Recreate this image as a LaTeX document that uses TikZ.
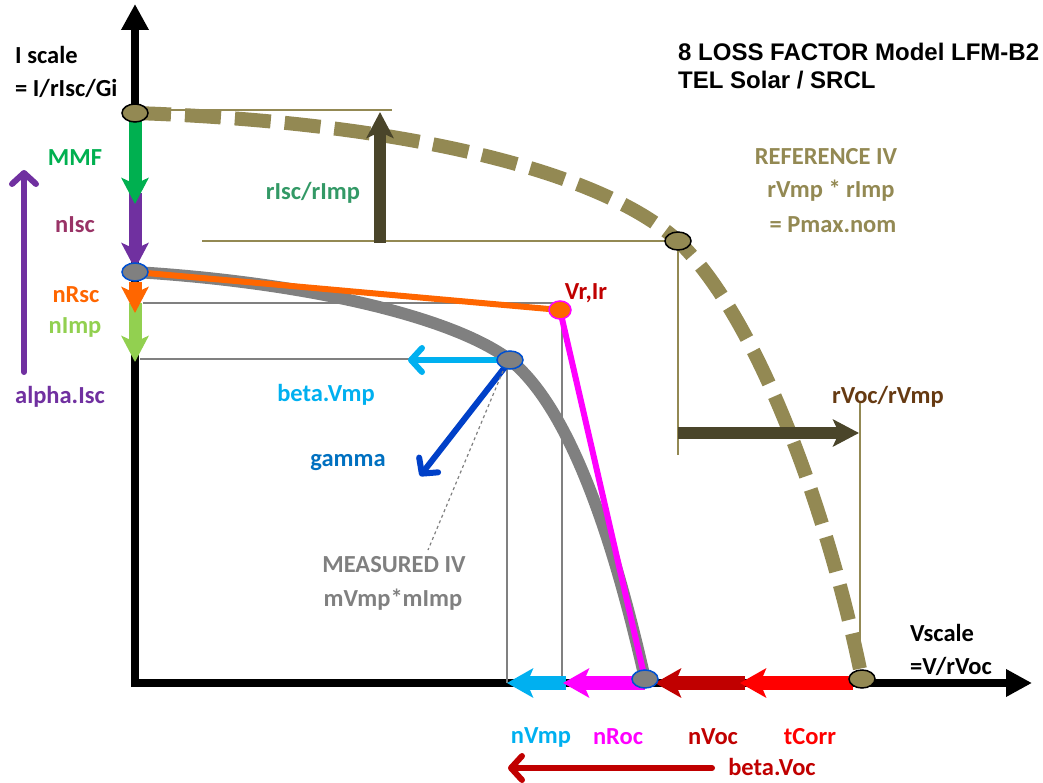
\documentclass[tikz,border=0pt]{standalone}
\usepackage{fontspec}
\setmainfont{Carlito}
\newfontfamily\arialfont{Liberation Sans}
\usetikzlibrary{arrows.meta,shapes.geometric}
\definecolor{olv}{HTML}{938953}
\definecolor{dolv}{HTML}{4A452A}
\definecolor{brn}{HTML}{663A12}
\definecolor{mmfg}{HTML}{00B050}
\definecolor{purp}{HTML}{7030A0}
\definecolor{nisc}{HTML}{993366}
\definecolor{orng}{HTML}{FF6600}
\definecolor{lgrn}{HTML}{92D050}
\definecolor{cyn}{HTML}{00B0F0}
\definecolor{gamb}{HTML}{0040C8}
\definecolor{gamt}{HTML}{0070C0}
\definecolor{mag}{HTML}{FF00FF}
\definecolor{dred}{HTML}{C00000}
\definecolor{rred}{HTML}{FF0000}
\definecolor{gry}{HTML}{808080}
\definecolor{tgrn}{HTML}{339966}
\definecolor{bord}{HTML}{0050D0}
\begin{document}
\begin{tikzpicture}[x=1pt,y=-1pt,
  lbl/.style={font=\fontsize{24.5}{26}\selectfont\bfseries, inner sep=0pt},
  ttl/.style={font=\arialfont\fontsize{24}{26}\selectfont\bfseries, inner sep=0pt, anchor=west},
  axis/.style={line width=8pt, -{Triangle[length=26pt,width=26pt]}},
  blk/.style={line width=13pt, -{Stealth[length=26pt,width=27pt,inset=6pt]}},
  hblk/.style={line width=14pt, -{Stealth[length=26pt,width=29pt,inset=6pt]}},
  thin/.style={line width=6pt, line cap=round, -{Straight Barb[length=11pt,width=24pt,round]}},
  guide/.style={line width=2.5pt, olv},
  mguide/.style={line width=1.5pt, gry},
  refpt/.style={ellipse, draw=black, fill=olv, line width=1.5pt, minimum width=26pt, minimum height=18pt, inner sep=0pt},
  mpt/.style={ellipse, draw=bord, fill=gry, line width=1.5pt, minimum width=26pt, minimum height=18pt, inner sep=0pt},
  vrpt/.style={ellipse, draw=mag, fill=orng, line width=1.5pt, minimum width=22pt, minimum height=18pt, inner sep=0pt}
]
\useasboundingbox (0,0) rectangle (1043,783);
% key points
\coordinate (isc) at (135,113);
\coordinate (rmp) at (678,241);
\coordinate (voc) at (862,679);
\coordinate (msc) at (135,272);
\coordinate (mmp) at (510,360);
\coordinate (moc) at (645,679);
\coordinate (vr) at (560,310);
% axes
\coordinate (orig) at (135,687);
\coordinate (ytip) at (135,4);
\coordinate (xorig) at (131,683);
\coordinate (xtip) at (1032,683);
\draw[axis] (orig) -- (ytip);
\draw[axis] (xorig) -- (xtip);
% reference guides
\coordinate (g1a) at (140,110); \coordinate (g1b) at (392,110);
\coordinate (g2a) at (202,241); \coordinate (g2b) at (668,241);
\coordinate (g3a) at (678,250); \coordinate (g3b) at (678,455);
\coordinate (g4a) at (860,403); \coordinate (g4b) at (860,650);
\draw[guide] (g1a) -- (g1b);
\draw[guide] (g2a) -- (g2b);
\draw[guide] (g3a) -- (g3b);
\draw[guide] (g4a) -- (g4b);
% measured guides
\coordinate (m1a) at (143,303); \coordinate (m1b) at (553,303);
\coordinate (m2a) at (140,359); \coordinate (m2b) at (410,359);
\coordinate (m3a) at (507,368); \coordinate (m3b) at (507,683);
\coordinate (m4a) at (562,320); \coordinate (m4b) at (562,683);
\draw[mguide] (m1a) -- (m1b);
\draw[mguide] (m2a) -- (m2b);
\draw[mguide] (m3a) -- (m3b);
\draw[mguide] (m4a) -- (m4b);
% reference curve
\draw[olv, line width=14pt, dash pattern=on 36pt off 14pt]
  (isc) .. controls (400,122) and (600,170) .. (rmp)
        .. controls (760,320) and (830,520) .. (voc);
% measured curve
\draw[gry, line width=12pt]
  (msc) .. controls (300,282) and (450,315) .. (mmp)
        .. controls (575,412) and (618,560) .. (moc);
% orange and magenta lines
\draw[orng, line width=6pt] (msc) -- (vr);
\draw[mag, line width=6pt] (vr) -- (moc);
% reference arrows
\coordinate (ra1) at (380,243); \coordinate (ra2) at (380,112);
\coordinate (rb1) at (678,433); \coordinate (rb2) at (859,433);
\draw[blk, dolv, line width=12pt] (ra1) -- (ra2);
\draw[blk, dolv, line width=12pt] (rb1) -- (rb2);
% left axis arrows
\coordinate (a1) at (135,115); \coordinate (a2) at (135,204);
\coordinate (b1) at (135,193); \coordinate (b2) at (135,269);
\coordinate (c1) at (135,282); \coordinate (c2) at (135,313);
\coordinate (d1) at (135,303); \coordinate (d2) at (135,362);
\draw[blk, lgrn] (d1) -- (d2);
\draw[blk, orng] (c1) -- (c2);
\draw[blk, purp] (b1) -- (b2);
\draw[blk, mmfg] (a1) -- (a2);
% bottom axis arrows
\coordinate (e1) at (853,683); \coordinate (e2) at (740,683);
\coordinate (f1) at (745,683); \coordinate (f2) at (655,683);
\coordinate (h1) at (645,683); \coordinate (h2) at (563,683);
\coordinate (k1) at (566,683); \coordinate (k2) at (507,683);
\draw[hblk, dred] (f1) -- (f2);
\draw[hblk, rred] (e1) -- (e2);
\draw[hblk, cyn] (k1) -- (k2);
\draw[hblk, mag] (h1) -- (h2);
% thin arrows
\coordinate (al1) at (24,372); \coordinate (al2) at (24,170);
\draw[thin, purp] (al1) -- (al2);
\coordinate (bv1) at (500,360); \coordinate (bv2) at (408,360);
\draw[thin, cyn] (bv1) -- (bv2);
\coordinate (gm1) at (505,367); \coordinate (gm2) at (420,476);
\draw[thin, gamb] (gm1) -- (gm2);
\coordinate (bo1) at (712,768); \coordinate (bo2) at (508,768);
\draw[thin, dred] (bo1) -- (bo2);
% dashed leader
\coordinate (ld) at (428,550);
\draw[gry, line width=1.2pt, dashed] (503,371) -- (ld);
% points
\node[refpt] (iscE) at (isc) {};
\node[refpt] (rmpE) at (rmp) {};
\node[refpt] (vocE) at (voc) {};
\node[mpt] (mscE) at (msc) {};
\node[mpt] (mmpE) at (mmp) {};
\node[mpt] (mocE) at (moc) {};
\node[vrpt] (vrE) at (vr) {};
% labels
\node[lbl, anchor=west] (is1) at (15,55) {I scale};
\node[lbl, anchor=west] (is2) at (15,88) {= I/rIsc/Gi};
\node[lbl, mmfg] (lmmf) at (75,158) {MMF};
\node[lbl, nisc] (lnisc) at (75,225) {nIsc};
\node[lbl, orng] (lnrsc) at (76,295) {nRsc};
\node[lbl, lgrn] (lnimp) at (75,327) {nImp};
\node[lbl, purp] (lalpha) at (60,397) {alpha.Isc};
\node[lbl, tgrn] (lrisc) at (313,193) {rIsc/rImp};
\node[lbl, olv] (lref1) at (826,157) {REFERENCE IV};
\node[lbl, olv] (lref2) at (831,191) {rVmp * rImp};
\node[lbl, olv] (lref3) at (833,225) {= Pmax.nom};
\node[ttl] (t1) at (678,52) {8 LOSS FACTOR Model LFM-B2};
\node[ttl] (t2) at (678,80) {TEL Solar / SRCL};
\node[lbl, dred] (lvr) at (586,293) {Vr,Ir};
\node[lbl, cyn] (lbv) at (326,395) {beta.Vmp};
\node[lbl, gamt] (lgam) at (348,463) {gamma};
\node[lbl, gry] (lmeas1) at (394,565) {MEASURED IV};
\node[lbl, gry] (lmeas2) at (393,600) {mVmp*mImp};
\node[lbl, brn] (lrvoc) at (888,397) {rVoc/rVmp};
\node[lbl, anchor=west] (vs1) at (910,633) {Vscale};
\node[lbl, anchor=west] (vs2) at (910,666) {=V/rVoc};
\node[lbl, cyn] (lnvmp) at (541,737) {nVmp};
\node[lbl, mag] (lnroc) at (618,737) {nRoc};
\node[lbl, dred] (lnvoc) at (713,737) {nVoc};
\node[lbl, rred] (ltc) at (810,737) {tCorr};
\node[lbl, dred] (lbvoc) at (772,767) {beta.Voc};
\end{tikzpicture}
\end{document}
